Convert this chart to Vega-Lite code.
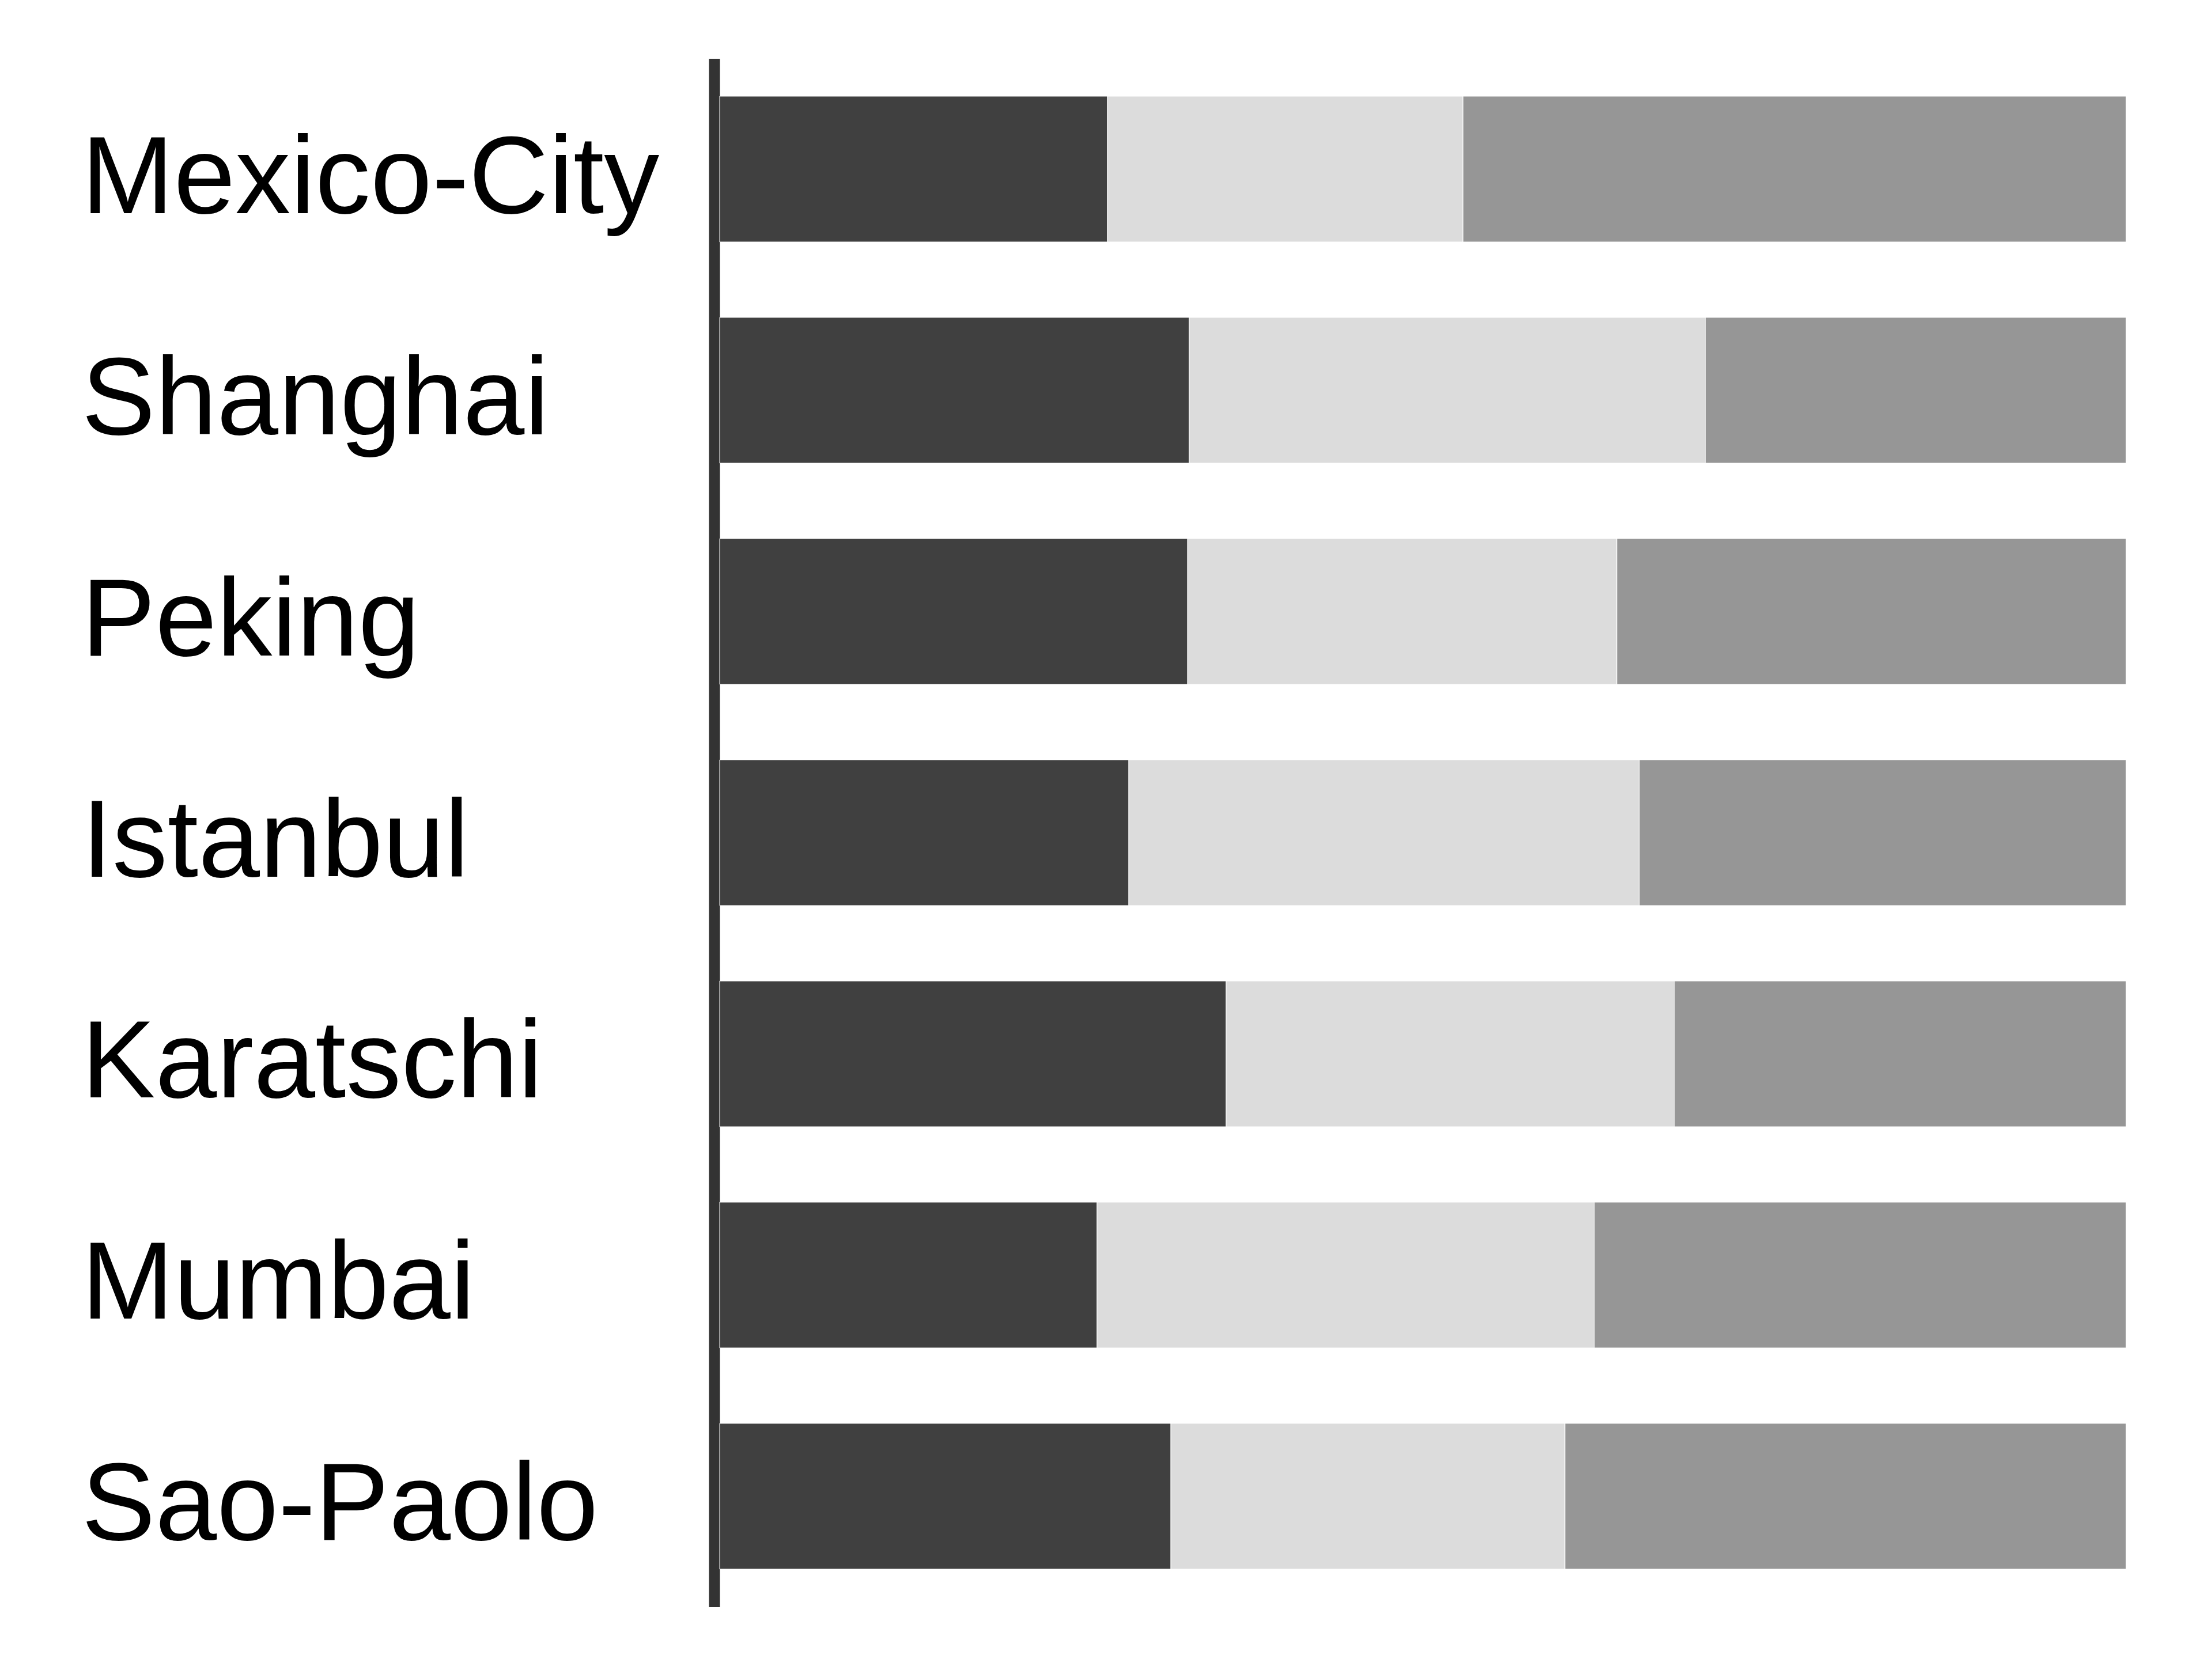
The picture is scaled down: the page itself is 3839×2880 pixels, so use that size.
{
  "$schema": "https://vega.github.io/schema/vega-lite/v6.json",
  "width": 2441,
  "height": 2688,
  "autosize": "none",
  "padding": {"left": 1249, "top": 101.5, "right": 149, "bottom": 90.5},
  "background": "white",
  "config": {"view": {"stroke": null}},
  "data": {
    "values": [
      {"city": "Mexico-City", "group": "A", "value": 27.57},
      {"city": "Mexico-City", "group": "B", "value": 25.28},
      {"city": "Mexico-City", "group": "C", "value": 47.15},
      {"city": "Shanghai", "group": "A", "value": 33.39},
      {"city": "Shanghai", "group": "B", "value": 36.71},
      {"city": "Shanghai", "group": "C", "value": 29.91},
      {"city": "Peking", "group": "A", "value": 33.27},
      {"city": "Peking", "group": "B", "value": 30.52},
      {"city": "Peking", "group": "C", "value": 36.21},
      {"city": "Istanbul", "group": "A", "value": 29.09},
      {"city": "Istanbul", "group": "B", "value": 36.3},
      {"city": "Istanbul", "group": "C", "value": 34.62},
      {"city": "Karatschi", "group": "A", "value": 36.01},
      {"city": "Karatschi", "group": "B", "value": 31.87},
      {"city": "Karatschi", "group": "C", "value": 32.12},
      {"city": "Mumbai", "group": "A", "value": 26.83},
      {"city": "Mumbai", "group": "B", "value": 35.35},
      {"city": "Mumbai", "group": "C", "value": 37.81},
      {"city": "Sao-Paolo", "group": "A", "value": 32.08},
      {"city": "Sao-Paolo", "group": "B", "value": 28.02},
      {"city": "Sao-Paolo", "group": "C", "value": 39.9}
    ]
  },
  "mark": {"type": "bar", "stroke": "white", "strokeWidth": 1},
  "encoding": {
    "y": {
      "field": "city",
      "type": "nominal",
      "sort": null,
      "scale": {"paddingInner": 0.3411, "paddingOuter": 0.1706},
      "axis": {
        "title": null,
        "offset": 9.5,
        "domainColor": "#333333",
        "domainWidth": 19,
        "ticks": false,
        "tickSize": 0,
        "labelFont": "Liberation Sans",
        "labelFontSize": 192,
        "labelColor": "black",
        "labelAlign": "left",
        "labelPadding": 1098.5,
        "labelOffset": 18,
        "labelLimit": 3000
      }
    },
    "x": {
      "field": "value",
      "type": "quantitative",
      "stack": "normalize",
      "scale": {"domain": [0, 1], "nice": false},
      "axis": null
    },
    "color": {
      "field": "group",
      "type": "nominal",
      "scale": {"domain": ["A", "B", "C"], "range": ["#404040", "#dcdcdc", "#969696"]},
      "legend": null
    },
    "order": {"field": "group"}
  }
}
